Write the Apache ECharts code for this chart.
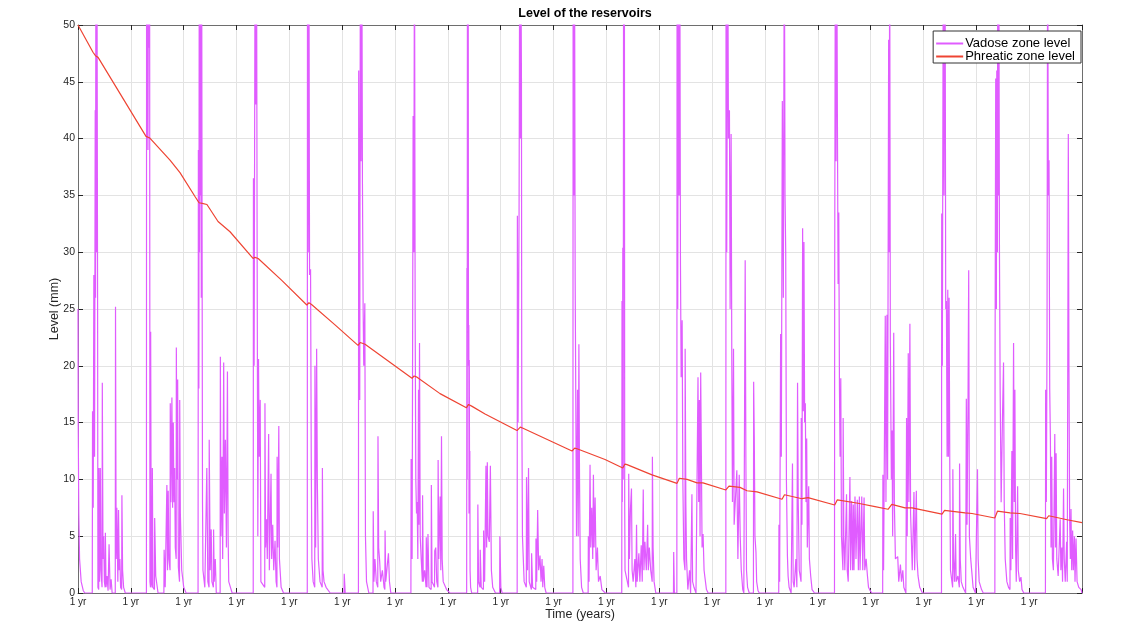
<!DOCTYPE html>
<html><head><meta charset="utf-8">
<script src="https://cdn.jsdelivr.net/npm/echarts@6/dist/echarts.min.js"></script>
<style>html,body{margin:0;padding:0;background:#fff}#c{width:1128px;height:639px}</style>
</head><body><div id="c"></div>
<script>
// Time in years, level in mm (values > 50 are clipped by the axis, as in the original)
const vadosePoints = [
[0,25],[0.004,15],[0.015,7],[0.03,3],[0.06,1],[0.1,0.2],[0.13,0],
[0.27,0],[0.275,16],[0.288,7.5],[0.30,28],[0.313,12],[0.326,42.5],[0.332,26],[0.339,60],[0.352,30],[0.358,60],[0.371,25],[0.377,0.5],[0.392,0.3],[0.396,11],[0.409,1],[0.422,11],[0.435,2],[0.455,0.5],[0.46,18.5],[0.473,3],[0.486,5],[0.499,1],[0.514,0.5],[0.518,5.3],[0.531,0.5],[0.55,1.5],[0.569,0.2],[0.584,0.2],[0.588,4.3],[0.607,0.3],[0.627,1.2],[0.646,0],[0.705,0],[0.71,25.2],[0.722,3],[0.735,7.5],[0.754,1],[0.767,7.3],[0.78,2],[0.793,3],[0.806,0.5],[0.826,0.3],[0.831,8.6],[0.844,2],[0.863,0.5],[0.895,0],
[1.295,0],[1.298,60],[1.304,40],[1.317,60],[1.324,39],[1.336,60],[1.343,48],[1.355,60],[1.362,1],[1.372,0.5],[1.375,23],[1.387,1],[1.403,0.5],[1.407,11],[1.419,0.5],[1.447,0.3],[1.451,6.6],[1.471,1.5],[1.49,1.5],[1.515,0],[1.625,0],[1.63,3.8],[1.65,0.5],[1.678,0.5],[1.682,9.5],[1.694,2],[1.707,9],[1.72,3],[1.742,2],[1.746,16.7],[1.758,8],[1.777,17.2],[1.79,7.5],[1.803,15],[1.816,8],[1.829,11],[1.841,4],[1.858,3],[1.861,21.6],[1.873,10],[1.886,18.8],[1.899,2.3],[1.921,1],[1.925,17],[1.937,7],[1.963,2],[2.001,0.5],[2.046,0],
[2.272,0],[2.278,39],[2.287,18],[2.295,60],[2.30,30],[2.31,60],[2.318,35],[2.325,60],[2.333,26],[2.34,60],[2.348,31.6],[2.356,8],[2.365,2],[2.40,0.5],[2.434,0.5],[2.438,11],[2.457,1],[2.48,0.5],[2.483,13.5],[2.502,2],[2.521,5.6],[2.534,1],[2.562,0.5],[2.566,5.6],[2.578,1],[2.598,3],[2.617,0],[2.69,0],[2.694,20.8],[2.706,5],[2.725,12],[2.738,3],[2.757,20.3],[2.77,7],[2.789,13.5],[2.809,4],[2.828,19.5],[2.841,5],[2.853,1],[2.885,0.5],[2.917,0],
[3.316,0],[3.32,36.5],[3.333,20],[3.352,60],[3.365,43],[3.378,60],[3.39,30],[3.403,5],[3.416,20.6],[3.429,12],[3.448,17],[3.461,1],[3.493,1],[3.534,0.5],[3.538,16.7],[3.55,4],[3.57,6.5],[3.582,3],[3.608,14],[3.621,2],[3.653,10.5],[3.665,3],[3.685,6],[3.704,2],[3.729,4.6],[3.749,1],[3.765,0.5],[3.768,12],[3.781,4],[3.80,14.7],[3.812,3],[3.844,0.5],[3.889,0],
[4.339,0],[4.343,60],[4.356,30],[4.369,60],[4.382,28],[4.401,28.5],[4.414,12],[4.426,3],[4.45,1],[4.48,0.5],[4.484,20],[4.497,4],[4.516,21.5],[4.529,10],[4.548,3],[4.58,1],[4.621,0.5],[4.625,11],[4.637,2],[4.656,1],[4.695,0.5],[4.772,0],
[5.034,0],[5.038,1.7],[5.057,0],
[5.307,0],[5.312,46],[5.332,17],[5.344,60],[5.357,38],[5.37,60],[5.383,36],[5.396,25],[5.408,20],[5.428,25.5],[5.44,5],[5.46,1],[5.504,0],[5.583,0],[5.587,7.2],[5.6,1],[5.62,3],[5.645,1],[5.673,0.5],[5.677,13.8],[5.69,4],[5.709,2.8],[5.728,1],[5.76,2],[5.792,0.5],[5.807,0.3],[5.811,5.5],[5.824,1],[5.856,2.6],[5.875,3.5],[5.894,1],[5.92,0],
[6.30,0],[6.304,11.8],[6.323,3],[6.342,42],[6.355,30],[6.368,60],[6.38,25],[6.393,10],[6.406,7],[6.419,8],[6.431,3],[6.444,17.9],[6.45,6],[6.463,22],[6.476,5],[6.495,3],[6.517,1],[6.521,8.6],[6.534,1],[6.559,2],[6.587,0.5],[6.591,4.9],[6.604,0.5],[6.619,0.5],[6.623,5.2],[6.642,0.5],[6.683,0.3],[6.687,9.5],[6.7,1],[6.747,0.5],[6.751,3.7],[6.77,4],[6.789,1],[6.811,0.5],[6.815,11.7],[6.828,3],[6.853,8.5],[6.866,2],[6.879,13.8],[6.892,3],[6.911,1],[6.975,0.3],[7.039,0],
[7.355,0],[7.36,28.6],[7.365,10],[7.37,60],[7.377,40],[7.384,60],[7.39,20],[7.396,23.6],[7.40,7],[7.405,20.5],[7.41,10],[7.415,12.5],[7.42,2],[7.43,0.5],[7.45,0],[7.563,0],[7.567,7.8],[7.58,1],[7.608,0.5],[7.612,3.8],[7.631,0.5],[7.672,0.3],[7.676,5.5],[7.695,1],[7.72,11.2],[7.733,4],[7.746,11.5],[7.759,5],[7.784,4.5],[7.804,11.2],[7.823,2],[7.848,0.5],[7.9,0],[7.979,0],[7.983,5],[8.002,0.5],[8.027,0],
[8.311,0],[8.315,33.2],[8.328,15],[8.347,33.5],[8.36,60],[8.373,40],[8.379,60],[8.392,45],[8.398,17.2],[8.411,5],[8.43,5],[8.443,1],[8.484,0.5],[8.488,10.2],[8.507,2],[8.526,11],[8.539,1],[8.58,0.3],[8.584,3.5],[8.603,0.5],[8.663,0.3],[8.667,4.8],[8.68,1],[8.699,7.3],[8.718,2],[8.743,3.3],[8.763,1],[8.782,3],[8.795,0.5],[8.814,2.4],[8.833,0.5],[8.859,0],
[9.366,0],[9.37,60],[9.383,35],[9.396,60],[9.408,28],[9.434,5],[9.453,17.9],[9.466,5],[9.479,21.9],[9.491,10],[9.504,3],[9.53,0.5],[9.562,0],[9.654,0],[9.658,5],[9.671,1],[9.69,11.3],[9.703,4],[9.722,7.5],[9.741,3],[9.754,10.4],[9.766,4],[9.786,8.4],[9.805,2],[9.83,4],[9.85,1],[9.882,1.5],[9.914,0.3],[9.978,0],
[10.29,0],[10.295,25.7],[10.30,8],[10.31,30.4],[10.318,10],[10.325,60],[10.332,30],[10.34,60],[10.346,8],[10.352,2],[10.418,0.5],[10.422,10.5],[10.435,3],[10.454,7.3],[10.474,9.2],[10.486,2],[10.506,1],[10.538,3],[10.557,0.5],[10.57,6],[10.582,1],[10.614,3.5],[10.633,1],[10.659,4.2],[10.678,1],[10.697,9.1],[10.71,2],[10.729,4.5],[10.755,2],[10.78,6],[10.793,2],[10.812,4],[10.838,2],[10.866,1],[10.87,12],[10.883,4],[10.902,1],[10.934,0],
[11.269,0],[11.273,3.6],[11.286,0],[11.333,0],[11.337,60],[11.35,25],[11.362,60],[11.375,35],[11.388,60],[11.401,29],[11.414,19],[11.433,24],[11.446,10],[11.465,3],[11.487,2],[11.49,21.5],[11.503,8],[11.516,3],[11.541,0.3],[11.573,2],[11.593,0],[11.614,0],[11.618,8.7],[11.631,1],[11.657,0.5],[11.695,0],[11.729,0],[11.733,19],[11.746,8],[11.759,17],[11.772,5],[11.784,19.4],[11.797,12],[11.81,4],[11.829,5.2],[11.848,2],[11.861,1.5],[11.893,0.3],[11.925,0],
[12.26,0],[12.264,60],[12.277,30],[12.296,60],[12.309,40],[12.328,42.5],[12.341,25],[12.36,40.4],[12.373,20],[12.385,8],[12.405,21.5],[12.417,6],[12.437,6],[12.468,10.8],[12.488,3],[12.513,10.4],[12.532,5],[12.552,2],[12.58,0.3],[12.6,0],[12.622,0],[12.626,29.3],[12.639,12],[12.651,2],[12.671,0.5],[12.703,0],[12.782,0],[12.786,18.6],[12.798,13.8],[12.811,5],[12.83,3.6],[12.843,1],[12.869,0.2],[12.894,0],
[13.261,0],[13.265,6],[13.278,1],[13.297,22.8],[13.31,12],[13.329,43.3],[13.348,26],[13.367,60],[13.38,35],[13.393,30],[13.406,10],[13.425,3.3],[13.438,1.5],[13.457,0.5],[13.495,0],[13.517,0],[13.521,11.4],[13.534,1],[13.553,0.5],[13.585,3],[13.604,0.5],[13.617,18.5],[13.63,8],[13.649,2],[13.683,1],[13.687,15.4],[13.7,6],[13.713,32.1],[13.726,16],[13.738,30.9],[13.751,15],[13.764,16.7],[13.777,8],[13.79,13.6],[13.802,4],[13.828,9.4],[13.841,3],[13.866,1.5],[13.892,0.3],[13.937,0],
[14.316,0],[14.32,28.6],[14.333,60],[14.346,38],[14.358,60],[14.371,42],[14.384,27.2],[14.397,33.5],[14.41,18],[14.422,12],[14.435,18.9],[14.448,5],[14.476,2],[14.48,15.4],[14.493,5],[14.512,2],[14.544,8.7],[14.557,2],[14.576,1],[14.608,10.2],[14.621,2],[14.64,8.1],[14.659,2],[14.672,7.8],[14.685,2],[14.704,8.5],[14.723,3],[14.749,8.2],[14.768,2],[14.787,8.5],[14.8,2],[14.832,8.5],[14.851,2],[14.876,8.4],[14.889,2],[14.915,3],[14.94,1.5],[14.96,0.5],[14.992,0.2],[15.024,0],
[15.228,0],[15.232,10.4],[15.245,2],[15.277,24.4],[15.29,8],[15.309,24.5],[15.321,10],[15.341,48.7],[15.353,30],[15.36,60],[15.373,22],[15.392,10],[15.405,14.3],[15.417,5],[15.437,22.9],[15.449,8],[15.469,3],[15.513,3.2],[15.532,1],[15.564,2.5],[15.584,1],[15.609,2],[15.628,0.5],[15.667,0],[15.676,0],[15.68,15.4],[15.692,5],[15.712,21.1],[15.724,8],[15.743,23.7],[15.756,7],[15.788,2],[15.82,8.9],[15.833,2],[15.865,9],[15.878,3],[15.897,1.5],[15.929,0.5],[15.98,0],
[16.341,0],[16.345,33.4],[16.357,20],[16.376,60],[16.389,35],[16.408,60],[16.421,25],[16.434,25.7],[16.447,12],[16.46,26.7],[16.472,12],[16.485,26],[16.498,11],[16.511,2],[16.552,0.5],[16.556,10.9],[16.568,3],[16.587,1],[16.607,5.2],[16.619,1],[16.651,1.5],[16.679,0.5],[16.683,11.4],[16.696,3],[16.715,1],[16.747,0.5],[16.798,0],[16.807,0],[16.811,17.1],[16.824,6],[16.843,17],[16.856,28.4],[16.869,5],[16.894,3],[16.939,0.5],[16.984,0],[17.018,0],[17.022,10.9],[17.035,3],[17.054,1],[17.099,0.3],[17.131,0],
[17.351,0],[17.355,21],[17.367,45.3],[17.38,25],[17.387,46],[17.4,30],[17.406,60],[17.419,35],[17.425,60],[17.438,30],[17.451,18],[17.47,8],[17.495,15.4],[17.515,20.3],[17.528,8],[17.547,3],[17.578,1],[17.61,0.5],[17.637,0.3],[17.641,6.6],[17.654,2],[17.673,12.5],[17.686,3],[17.705,22],[17.718,8],[17.73,17.9],[17.743,4],[17.756,1],[17.782,9.4],[17.794,2],[17.82,1],[17.845,1.4],[17.865,0.3],[17.897,0],
[18.308,0],[18.312,17.9],[18.325,8],[18.338,22],[18.35,60],[18.363,35],[18.376,38.1],[18.389,18],[18.402,13.5],[18.414,4],[18.427,12],[18.44,3],[18.459,2],[18.485,14],[18.498,4],[18.51,12.3],[18.523,3],[18.549,1.5],[18.587,6.5],[18.6,2],[18.619,4],[18.632,1],[18.651,9.2],[18.664,3],[18.683,1],[18.709,4.5],[18.721,1],[18.741,40.4],[18.753,20],[18.766,6.5],[18.779,3],[18.792,7.4],[18.805,2],[18.823,5.5],[18.836,2],[18.856,5],[18.868,1],[18.887,4.8],[18.907,1],[18.939,0.5],[18.983,0.3],[19,0]
];
const phreaticPoints = [
[0,50],[0.284,47.6],[0.33,47.3],[0.38,47.15],[1.287,40.2],[1.36,40.05],[1.741,38.1],[1.93,37.0],[2.214,34.9],[2.29,34.35],[2.35,34.3],[2.44,34.2],[2.65,32.7],[2.877,31.8],[3.312,29.45],[3.35,29.55],[3.41,29.45],[3.861,27.5],[4.33,25.35],[4.37,25.55],[4.42,25.4],[4.864,23.6],[5.299,21.8],[5.34,22.05],[5.432,21.9],[6.321,18.9],[6.36,19.1],[6.416,19.0],[6.851,17.55],[7.35,16.3],[7.39,16.6],[7.45,16.45],[7.703,15.75],[8.308,14.3],[8.37,14.6],[8.422,14.5],[9.349,12.5],[9.40,12.75],[9.444,12.7],[9.974,11.75],[10.31,11.0],[10.35,11.35],[10.39,11.3],[10.863,10.4],[11.336,9.65],[11.38,10.1],[11.526,10.0],[11.715,9.7],[11.828,9.7],[12.26,9.07],[12.32,9.4],[12.528,9.3],[12.66,9.0],[12.85,8.9],[13.323,8.25],[13.37,8.65],[13.702,8.3],[13.815,8.4],[14.32,7.75],[14.37,8.2],[14.762,7.9],[15.083,7.6],[15.33,7.37],[15.40,7.8],[15.651,7.5],[15.784,7.5],[16.351,6.95],[16.40,7.27],[16.787,7.05],[16.919,7.0],[17.35,6.6],[17.40,7.2],[17.638,7.05],[17.827,7.0],[18.33,6.55],[18.37,6.8],[18.717,6.45],[19,6.2]
];
const seriesNames = ['Vadose zone level', 'Phreatic zone level'];
const seriesColors = ['#e05cff', '#ee4433'];
const chartTitle = 'Level of the reservoirs';
const xTitle = 'Time (years)';
const yTitle = 'Level (mm)';
const xTickLabel = '1 yr';
const xMin = 0, xMax = 19, yMin = 0, yMax = 50;

const FONT = '"Liberation Sans", Arial, Helvetica, sans-serif';
const chart = echarts.init(document.getElementById('c'), null, {renderer: 'canvas'});
const tickStyle = {show: true, inside: true, length: 5, lineStyle: {color: '#262626', width: 1}};
const lineAxis = {show: true, onZero: false, lineStyle: {color: '#6e6e6e', width: 1}};
chart.setOption({
  animation: false,
  backgroundColor: '#ffffff',
  title: {text: chartTitle, left: 580, top: 2, textAlign: 'center',
    textStyle: {fontFamily: FONT, fontSize: 12.5, fontWeight: 'bold', color: '#000'}},
  grid: {left: 78, right: 46, top: 25, bottom: 46, containLabel: false},
  legend: {
    data: seriesNames.map((n, i) => ({name: n, itemStyle: {color: seriesColors[i], borderWidth: 0}})),
    orient: 'vertical', right: 47, top: 31,
    icon: 'rect', itemWidth: 27, itemHeight: 2, itemGap: 0, padding: [6, 6, 0, 3],
    borderColor: '#333', borderWidth: 1, backgroundColor: '#fff', borderRadius: 0,
    textStyle: {fontFamily: FONT, fontSize: 13, color: '#000', padding: [0, 0, 0, -3]}
  },
  xAxis: [{
    type: 'value', min: xMin, max: xMax, interval: 1,
    name: xTitle, nameLocation: 'middle', nameGap: 15, nameMoveOverlap: false,
    nameTextStyle: {fontFamily: FONT, fontSize: 12.5, color: '#262626'},
    axisLine: lineAxis, axisTick: tickStyle,
    axisLabel: {fontFamily: FONT, fontSize: 10, color: '#262626', margin: 4,
      formatter: v => (v < xMax ? xTickLabel : '')},
    splitLine: {show: true, lineStyle: {color: '#e3e3e3', width: 1}}
  }, {
    type: 'value', min: xMin, max: xMax, interval: 1, position: 'top',
    axisLine: lineAxis, axisTick: tickStyle, axisLabel: {show: false}, splitLine: {show: false}
  }],
  yAxis: [{
    type: 'value', min: yMin, max: yMax, interval: 5,
    name: yTitle, nameLocation: 'middle', nameGap: 17, nameMoveOverlap: false,
    nameTextStyle: {fontFamily: FONT, fontSize: 12.5, color: '#262626'},
    axisLine: lineAxis, axisTick: tickStyle,
    axisLabel: {fontFamily: FONT, fontSize: 10.5, color: '#262626', margin: 3},
    splitLine: {show: true, lineStyle: {color: '#e3e3e3', width: 1}}
  }, {
    type: 'value', min: yMin, max: yMax, interval: 5, position: 'right',
    axisLine: lineAxis, axisTick: tickStyle, axisLabel: {show: false}, splitLine: {show: false}
  }],
  series: [{
    name: seriesNames[0], type: 'line', data: vadosePoints, symbol: 'none', showSymbol: false,
    sampling: null, clip: true, lineStyle: {color: seriesColors[0], width: 1.2}, itemStyle: {color: seriesColors[0]}
  }, {
    name: seriesNames[1], type: 'line', data: phreaticPoints, symbol: 'none', showSymbol: false,
    clip: true, lineStyle: {color: seriesColors[1], width: 1.2}, itemStyle: {color: seriesColors[1]}
  }]
});
</script></body></html>
